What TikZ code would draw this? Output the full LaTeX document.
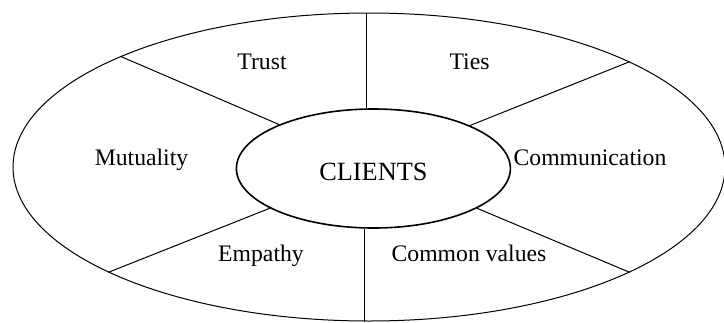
\documentclass[tikz,border=0pt]{standalone}
\usepackage{fontspec}
\setmainfont{Liberation Serif}
\usetikzlibrary{shapes.geometric}
\tikzstyle{ring}=[ellipse, draw, line width=1pt, inner sep=0pt]
\tikzstyle{hub}=[ellipse, draw, line width=1.6pt, inner sep=0pt, text height=24pt, font=\fontsize{26.3}{28}\selectfont]
\tikzstyle{factor}=[anchor=base, inner sep=0pt, font=\fontsize{23.7}{26}\selectfont]

\begin{document}
\begin{tikzpicture}[x=1pt, y=-1pt, line width=1pt]
  \useasboundingbox (0,0) rectangle (724,322);
  \node[ring, minimum width=712pt, minimum height=308pt] (outer) at (369,167) {};
  \node[hub, minimum width=274pt, minimum height=119pt] (clients) at (373.4,168.5) {CLIENTS};
  % spokes
  \draw (clients.97.7) -- (clients.97.7 |- outer.north);
  \draw (clients.262.3) -- (clients.262.3 |- outer.south);
  \draw (clients.155.8) -- (outer.156.5);
  \draw (clients.24.7) -- (outer.22.7);
  \draw (clients.201.5) -- (outer.202.9);
  \draw (clients.-21.1) -- (outer.-22.4);
  % factors
  \node[factor] (trust) at (262,69.3) {Trust};
  \node[factor] (ties) at (469.5,69.3) {Ties};
  \node[factor] (mutuality) at (141.5,165) {Mutuality};
  \node[factor] (communication) at (590,165) {Communication};
  \node[factor] (empathy) at (261,261) {Empathy};
  \node[factor] (values) at (469,261) {Common values};
\end{tikzpicture}
\end{document}
